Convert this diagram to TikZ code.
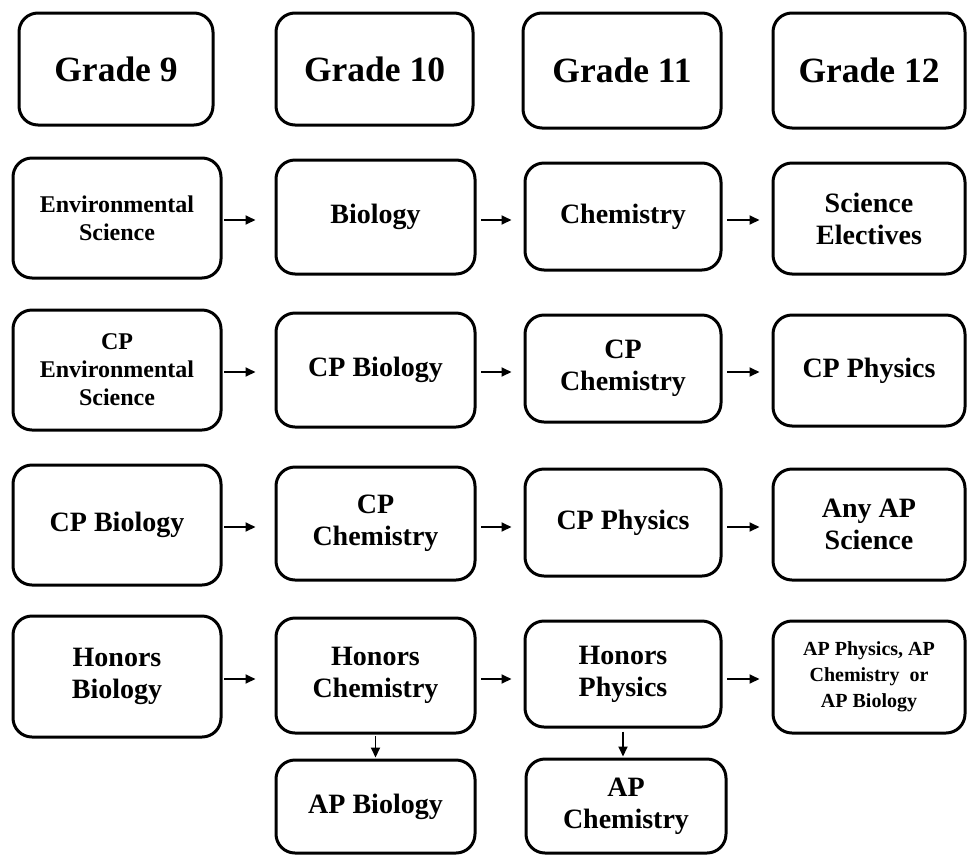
\documentclass[tikz,border=0pt]{standalone}
\usepackage{fontspec}
\setmainfont{Liberation Serif}
\usetikzlibrary{arrows.meta}
\tikzset{
  box/.style={draw=black, line width=3pt, rounded corners=19pt, inner sep=0pt,
    align=center, font=\bfseries\fontsize{28}{32}\selectfont},
  head/.style={box, font=\bfseries\fontsize{35.5}{40}\selectfont},
  small/.style={font=\bfseries\fontsize{24}{28}\selectfont},
  tiny/.style={font=\bfseries\fontsize{20}{26}\selectfont},
  arr/.style={line width=1.8pt, -{Triangle[length=10pt,width=9pt]}},
  c1/.style={minimum width=208pt, minimum height=120pt},
  c2/.style={minimum width=199pt, minimum height=114pt},
  c3/.style={minimum width=196pt, minimum height=107pt},
  c4/.style={minimum width=192pt, minimum height=111pt},
}
\begin{document}
\begin{tikzpicture}[x=1pt,y=-1pt]
\useasboundingbox (0,0) rectangle (967,855);
% headers
\node[head, minimum width=194pt, minimum height=112pt] (g9) at (116,69) {Grade 9};
\node[head, minimum width=197pt, minimum height=112pt] (g10) at (374.5,69) {Grade 10};
\node[head, minimum width=198pt, minimum height=115pt] (g11) at (622,70.5) {Grade 11};
\node[head, minimum width=192pt, minimum height=115pt] (g12) at (869,70.5) {Grade 12};
% row 2
\node[box, c1, small] (es) at (117,218) {Environmental\\Science};
\node[box, c2] (bio) at (375.5,217) {Biology};
\node[box, c3] (chem) at (623,216.5) {Chemistry};
\node[box, c4, minimum height=111pt] (sel) at (869,218.5) {Science\\Electives};
% row 3
\node[box, c1, small] (cpes) at (117,370) {CP\\Environmental\\Science};
\node[box, c2] (cpbio) at (375.5,370) {CP Biology};
\node[box, c3] (cpchem) at (623,368.5) {CP\\Chemistry};
\node[box, c4] (cpphys) at (869,370.5) {CP Physics};
% row 4
\node[box, c1] (cpbioA) at (117,525) {CP Biology};
\node[box, c2, minimum height=113pt] (cpchemA) at (375.5,523.5) {CP\\Chemistry};
\node[box, c3] (cpphysA) at (623,522.5) {CP Physics};
\node[box, c4] (anyap) at (869,524.5) {Any AP\\Science};
% row 5
\node[box, c1, minimum height=121pt] (hbio) at (117,676.5) {Honors\\Biology};
\node[box, c2, minimum height=115pt] (hchem) at (375.5,675.5) {Honors\\Chemistry};
\node[box, c3, minimum height=106pt] (hphys) at (623,674) {Honors\\Physics};
\node[box, c4, minimum height=112pt, tiny] (apx) at (869,677) {AP Physics, AP\\Chemistry~ or\\AP Biology};
% row 6
\node[box, minimum width=199pt, minimum height=93pt] (apbio) at (375.5,806.5) {AP Biology};
\node[box, minimum width=200pt, minimum height=94pt] (apchem) at (626,806) {AP\\Chemistry};
% horizontal arrows
\foreach \a/\b/\y in {es/bio/220, cpes/cpbio/372, cpbioA/cpchemA/527, hbio/hchem/679}{
  \draw[arr, shorten <=1.5pt, shorten >=19pt] (\a.east |- 0,\y) -- (\b.west |- 0,\y);
}
\foreach \a/\b/\y in {bio/chem/220, cpbio/cpchem/372, cpchemA/cpphysA/527, hchem/hphys/679,
                      chem/sel/220, cpchem/cpphys/372, cpphysA/anyap/527, hphys/apx/679}{
  \draw[arr, shorten <=4.5pt, shorten >=12pt] (\a.east |- 0,\y) -- (\b.west |- 0,\y);
}
% vertical arrows
\draw[arr, shorten <=1.5pt, shorten >=1pt] (hchem.south) -- (apbio.north);
\draw[arr, shorten <=3pt, shorten >=1pt] (hphys.south) -- (hphys.south |- apchem.north);
\end{tikzpicture}
\end{document}
